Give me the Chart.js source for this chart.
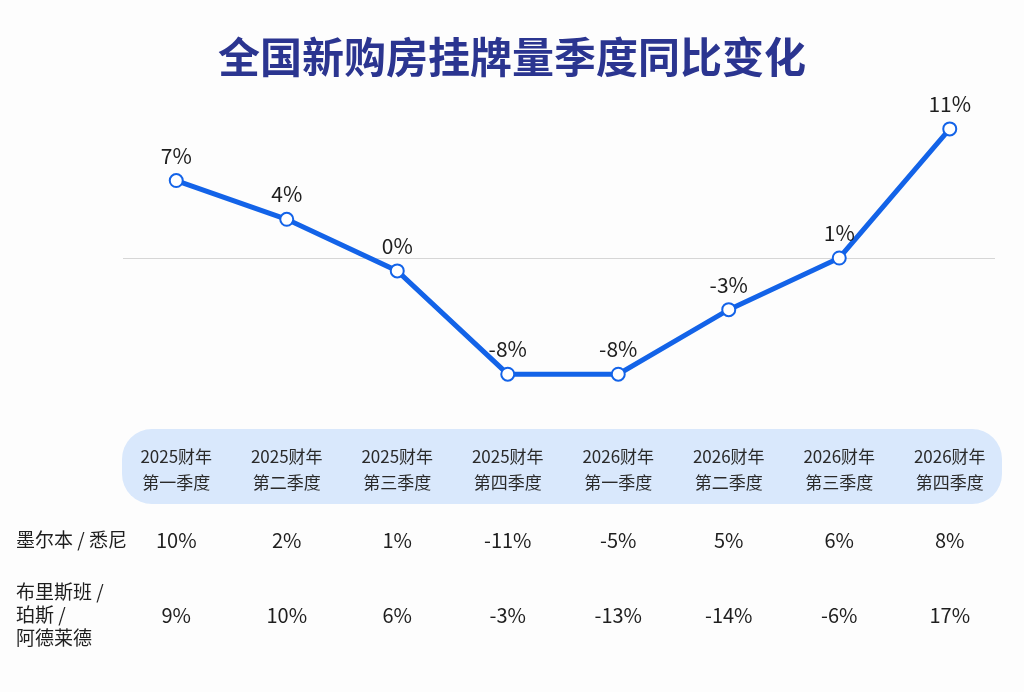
<!DOCTYPE html>
<html>
<head>
<meta charset="utf-8">
<script src="https://cdn.jsdelivr.net/npm/chart.js@4"></script>
<style>
  body { margin: 0; background: #fdfdfd; }
  #chart { display: block; }
</style>
</head>
<body>
<canvas id="chart" width="1024" height="692"></canvas>
<script>
// data
const title = '全国新购房挂牌量季度同比变化';
const quarters = [
    ['2025财年', '第一季度'], ['2025财年', '第二季度'], ['2025财年', '第三季度'], ['2025财年', '第四季度'],
    ['2026财年', '第一季度'], ['2026财年', '第二季度'], ['2026财年', '第三季度'], ['2026财年', '第四季度']
];
const national = [7, 4, 0, -8, -8, -3, 1, 11];
const rowNames = [['墨尔本 / 悉尼'], ['布里斯班 /', '珀斯 /', '阿德莱德']];
const melSyd = [10, 2, 1, -11, -5, 5, 6, 8];
const bneOthers = [9, 10, 6, -3, -13, -14, -6, 17];
const refLine = 1;

const FONT = '"Noto Sans CJK SC", "Noto Sans", sans-serif';
const BLUE = '#1363e8';

// title, band behind the quarter labels, reference line, point labels, table rows
const extras = {
    id: 'extras',
    beforeDraw(chart) {
        const ctx = chart.ctx;
        const area = chart.chartArea;
        const y = chart.scales.y;
        ctx.save();
        ctx.fillStyle = '#2b3590';
        ctx.font = 'bold 42px ' + FONT;
        ctx.textAlign = 'center';
        ctx.textBaseline = 'middle';
        ctx.fillText(title, 512, 57);

        ctx.fillStyle = '#d9e8fc';
        ctx.beginPath();
        ctx.roundRect(area.left + 1, 429, area.right - area.left - 4, 75, 30);
        ctx.fill();

        const ly = Math.round(y.getPixelForValue(refLine)) + 0.5;
        ctx.strokeStyle = '#d6d6d6';
        ctx.lineWidth = 1;
        ctx.beginPath();
        ctx.moveTo(area.left + 2, ly);
        ctx.lineTo(area.right - 10, ly);
        ctx.stroke();
        ctx.restore();
    },
    afterDatasetsDraw(chart) {
        const ctx = chart.ctx;
        const x = chart.scales.x;
        const pts = chart.getDatasetMeta(0).data;
        ctx.save();
        ctx.fillStyle = '#1e1e1e';
        ctx.textAlign = 'center';
        ctx.textBaseline = 'middle';
        ctx.font = '21px ' + FONT;
        pts.forEach((p, i) => ctx.fillText(national[i] + '%', p.x, p.y - 25));

        [melSyd, bneOthers].forEach((row, r) => {
            const cy = r === 0 ? 540 : 615;
            ctx.textAlign = 'center';
            ctx.font = '20px ' + FONT;
            row.forEach((v, i) => ctx.fillText(v + '%', x.getPixelForValue(i), cy));
            ctx.textAlign = 'left';
            ctx.font = '19px ' + FONT;
            const lines = rowNames[r];
            lines.forEach((t, k) => ctx.fillText(t, 16, cy + (k - (lines.length - 1) / 2) * 23));
        });
        ctx.restore();
    }
};

const ctx = document.getElementById('chart').getContext('2d');
new Chart(ctx, {
    type: 'line',
    data: {
        labels: quarters,
        datasets: [{
            data: national,
            borderColor: BLUE,
            borderWidth: 5,
            tension: 0,
            pointRadius: 6.5,
            pointBorderWidth: 2,
            pointBackgroundColor: '#fff',
            pointBorderColor: BLUE,
            clip: false
        }]
    },
    options: {
        responsive: false,
        animation: false,
        layout: { padding: { top: 116, left: 121, right: 19, bottom: 0 } },
        plugins: {
            legend: { display: false },
            tooltip: { enabled: false }
        },
        scales: {
            x: {
                offset: true,
                grid: { display: false },
                border: { display: false },
                ticks: {
                    padding: 36,
                    color: '#2a2a2a',
                    font: { family: FONT, size: 17, lineHeight: 1.5 },
                    maxRotation: 0,
                    autoSkip: false
                },
                afterFit(scale) { scale.height = 292; }
            },
            y: {
                display: false,
                min: -10,
                max: 12
            }
        }
    },
    plugins: [extras]
});
</script>
</body>
</html>
